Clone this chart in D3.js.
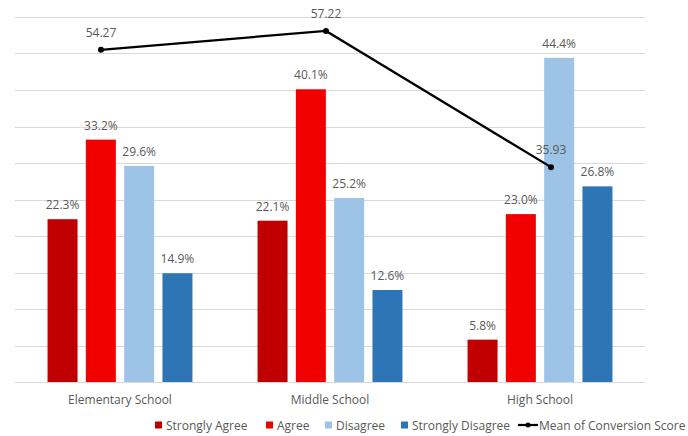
<!DOCTYPE html>
<html>
<head>
<meta charset="utf-8">
<script src="https://cdn.jsdelivr.net/npm/d3@7"></script>
<style>
  html, body { margin: 0; padding: 0; background: #fff; }
  svg { display: block; font-family: "Open Sans", "Noto Sans", sans-serif; }
</style>
</head>
<body>
<svg id="chart" width="688" height="436"></svg>
<script>
// School levels on the category axis
const categories = ["Elementary School", "Middle School", "High School"];
// Response groups (bars)
const seriesNames = ["Strongly Agree", "Agree", "Disagree", "Strongly Disagree"];
const stronglyAgree = [22.3, 22.1, 5.8];
const agree = [33.2, 40.1, 23.0];
const disagree = [29.6, 25.2, 44.4];
const stronglyDisagree = [14.9, 12.6, 26.8];
// Mean conversion score per school level (line)
const meanScore = [54.27, 57.22, 35.93];
const lineName = "Mean of Conversion Score";
// Gridline values on the percent axis
const gridTicks = [0, 5, 10, 15, 20, 25, 30, 35, 40, 45, 50];

const colors = ["#C00000", "#F20000", "#9DC3E6", "#2E75B6"];
const seriesValues = [stronglyAgree, agree, disagree, stronglyDisagree];

const svg = d3.select("#chart");
const plot = { left: 15, right: 645, top: 17, bottom: 382 };

const x0 = d3.scaleBand().domain(categories)
  .range([plot.left, plot.right]).paddingInner(0.31).paddingOuter(0.155);
const x1 = d3.scaleBand().domain(seriesNames)
  .range([0, x0.bandwidth()]).paddingInner(0.217);
const y = d3.scaleLinear().domain([0, 50]).range([plot.bottom, plot.top]);

// Secondary axis for the mean score line
const xLine = d3.scalePoint().domain(categories).range([101, 551]);
const y2 = d3.scaleLinear().domain([0, 59.4]).range([plot.bottom + 15, plot.top]);

// Gridlines
svg.append("g").selectAll("line").data(gridTicks).join("line")
  .attr("x1", plot.left).attr("x2", plot.right)
  .attr("y1", d => Math.round(y(d)) + 0.5).attr("y2", d => Math.round(y(d)) + 0.5)
  .attr("stroke", "#D9D9D9").attr("stroke-width", 1);

// Bars
const rows = categories.map((c, i) => ({
  cat: c,
  vals: seriesNames.map((s, j) => ({ s, v: seriesValues[j][i], color: colors[j] }))
}));

const groups = svg.append("g").selectAll("g").data(rows).join("g")
  .attr("transform", d => `translate(${x0(d.cat)},0)`);

groups.selectAll("rect").data(d => d.vals).join("rect")
  .attr("x", d => x1(d.s)).attr("width", x1.bandwidth())
  .attr("y", d => y(d.v)).attr("height", d => y(0) - y(d.v))
  .attr("fill", d => d.color);

groups.selectAll("text").data(d => d.vals).join("text")
  .attr("x", d => x1(d.s) + x1.bandwidth() / 2)
  .attr("y", d => y(d.v) - 10)
  .attr("text-anchor", "middle")
  .attr("font-size", 12).attr("fill", "#595959")
  .text(d => d.v.toFixed(1) + "%");

// Category labels
svg.append("g").selectAll("text").data(categories).join("text")
  .attr("x", d => x0(d) + x0.bandwidth() / 2)
  .attr("y", 404)
  .attr("text-anchor", "middle")
  .attr("font-size", 12).attr("fill", "#595959")
  .text(d => d);

// Mean score line
const linePts = categories.map((c, i) => ({ c, v: meanScore[i] }));
svg.append("path").datum(linePts)
  .attr("d", d3.line().x(d => xLine(d.c)).y(d => y2(d.v)))
  .attr("fill", "none").attr("stroke", "#000").attr("stroke-width", 2.25);
svg.append("g").selectAll("circle").data(linePts).join("circle")
  .attr("cx", d => xLine(d.c)).attr("cy", d => y2(d.v)).attr("r", 3)
  .attr("fill", "#000");
svg.append("g").selectAll("text").data(linePts).join("text")
  .attr("x", d => xLine(d.c)).attr("y", d => y2(d.v) - 13)
  .attr("text-anchor", "middle")
  .attr("font-size", 12).attr("fill", "#595959")
  .text(d => d.v.toFixed(2));

// Legend
const legendY = 426;
const legendItems = [
  { name: seriesNames[0], color: colors[0], x: 155 },
  { name: seriesNames[1], color: colors[1], x: 266 },
  { name: seriesNames[2], color: colors[2], x: 325 },
  { name: seriesNames[3], color: colors[3], x: 401 }
];
const lg = svg.append("g");
legendItems.forEach(it => {
  lg.append("rect").attr("x", it.x).attr("y", legendY - 4.5)
    .attr("width", 7).attr("height", 7).attr("fill", it.color);
  lg.append("text").attr("x", it.x + 11).attr("y", legendY + 4)
    .attr("font-size", 12).attr("fill", "#595959").text(it.name);
});
lg.append("line").attr("x1", 518).attr("x2", 538)
  .attr("y1", legendY - 1).attr("y2", legendY - 1)
  .attr("stroke", "#000").attr("stroke-width", 2.25);
lg.append("circle").attr("cx", 528).attr("cy", legendY - 1).attr("r", 2.5).attr("fill", "#000");
lg.append("text").attr("x", 539).attr("y", legendY + 4)
  .attr("font-size", 12).attr("fill", "#595959").text(lineName);
</script>
</body>
</html>
